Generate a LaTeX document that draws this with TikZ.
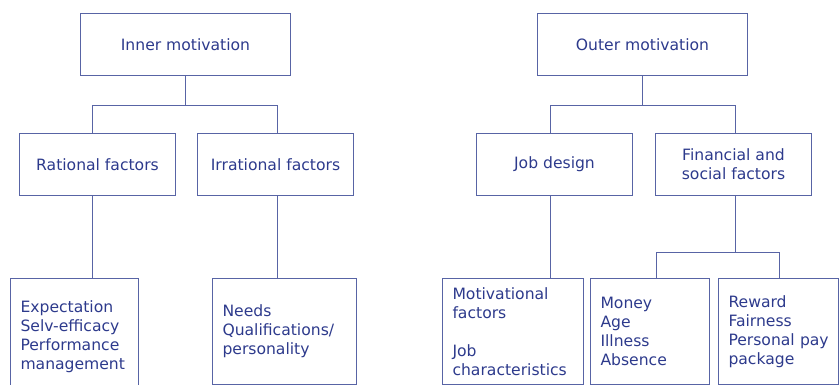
\documentclass[tikz,border=0pt]{standalone}
\usepackage{fontspec}
\setmainfont{DejaVu Sans}
\definecolor{linec}{RGB}{88,100,165}
\definecolor{txtc}{RGB}{45,58,140}
\begin{document}
\begin{tikzpicture}[x=1pt,y=1pt,
  box/.style={draw=linec, line width=1.4pt, text=txtc, inner sep=0pt,
              font=\fontsize{15.6}{19}\selectfont},
  topbox/.style={box, minimum height=62pt, align=center},
  leafbox/.style={box, inner xsep=10pt, align=left},
  conn/.style={draw=linec, line width=1.4pt}]
\useasboundingbox (0,0) rectangle (839,385);
% top level
\node[topbox, minimum width=210pt] (inner) at (185.5,340.5) {Inner motivation};
\node[topbox, minimum width=210pt] (outer) at (642.5,340.5) {Outer motivation};
% second level
\node[topbox, minimum width=156pt] (rational) at (97.5,220.5) {Rational factors};
\node[topbox, minimum width=156pt] (irrational) at (275.5,220.5) {Irrational factors};
\node[topbox, minimum width=156pt] (job) at (554.5,220.5) {Job design};
\node[topbox, minimum width=156pt] (fin) at (733.5,220.5) {Financial and\\social factors};
% leaves
\node[leafbox, text width=108pt, minimum height=116pt] (expect) at (74.5,48.5)
  {Expectation\\Selv-efficacy\\Performance\\management};
\node[leafbox, text width=124pt, minimum height=106pt] (needs) at (284.5,53.5)
  {Needs\\Qualifications/\\personality};
\node[leafbox, text width=121pt, minimum height=106pt] (motiv) at (513,53.5)
  {Motivational\\factors\\[19pt]Job\\characteristics};
\node[leafbox, text width=99pt, minimum height=106pt] (money) at (650,53.5)
  {Money\\Age\\Illness\\Absence};
\node[leafbox, text width=100pt, minimum height=106pt] (reward) at (778.5,53.5)
  {Reward\\Fairness\\\mbox{Personal pay}\\package};
% connector columns and bars
\coordinate (xa) at (92.5,0);
\coordinate (xb) at (277.5,0);
\coordinate (xc) at (550.5,0);
\coordinate (xd) at (735.5,0);
\coordinate (xe) at (656.5,0);
\coordinate (xf) at (779.5,0);
\coordinate (barT) at (0,279.5);
\coordinate (barR) at (0,132.5);
% left tree
\draw[conn] (inner.south) -- (inner.south |- barT);
\draw[conn] (rational.north -| xa) -- (xa |- barT) -- (xb |- barT) -- (irrational.north -| xb);
\draw[conn] (rational.south -| xa) -- (expect.north -| xa);
\draw[conn] (irrational.south -| xb) -- (needs.north -| xb);
% right tree
\draw[conn] (outer.south) -- (outer.south |- barT);
\draw[conn] (job.north -| xc) -- (xc |- barT) -- (xd |- barT) -- (fin.north -| xd);
\draw[conn] (job.south -| xc) -- (motiv.north -| xc);
\draw[conn] (fin.south -| xd) -- (xd |- barR);
\draw[conn] (money.north -| xe) -- (xe |- barR) -- (xf |- barR) -- (reward.north -| xf);
\end{tikzpicture}
\end{document}
